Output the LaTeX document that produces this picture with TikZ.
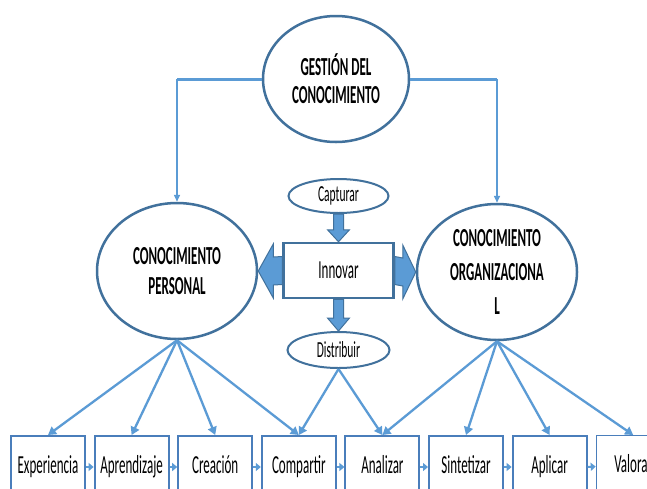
\documentclass[tikz,border=0pt]{standalone}
\usepackage{fontspec}
\setmainfont{Carlito}[FakeStretch=0.5]
\usetikzlibrary{shapes.geometric,arrows.meta,calc}
\definecolor{ltblue}{HTML}{5B9BD5}
\definecolor{dkblue}{HTML}{41719C}
\definecolor{bxblue}{HTML}{4A7EBB}
\tikzset{
  ell/.style={ellipse, draw=dkblue, line width=2.5pt, inner sep=0pt, fill=white, align=center, text=black},
  bigfont/.style={font=\fontsize{26}{30}\selectfont\bfseries},
  midfont/.style={font=\fontsize{23}{27}\selectfont},
  stepbox/.style={rectangle, draw=bxblue, line width=2pt, minimum width=74pt, minimum height=62pt,
    inner sep=0pt, anchor=north, text height=17pt, text depth=5pt, font=\fontsize{26}{30}\selectfont},
  fan/.style={draw=ltblue, line width=2.3pt, -{Triangle[length=8pt,width=9pt]}},
  small/.style={draw=ltblue, line width=2pt, -{Triangle[length=5pt,width=8pt]}},
  hline/.style={draw=ltblue, line width=3pt},
  vline/.style={draw=ltblue, line width=1.5pt, -{Triangle[length=7pt,width=6pt]}},
  blockarrow/.style={fill=ltblue, draw=dkblue, line width=1pt, line join=miter},
}
\begin{document}
\begin{tikzpicture}[x=1pt,y=-1pt]
\clip (0,0) rectangle (647,488);
\fill[white] (0,0) rectangle (647,488);

% main ellipses
\node[ell, bigfont, minimum width=146pt, minimum height=126pt] (gest) at (336,79)
  {GESTIÓN DEL\\[-2pt]CONOCIMIENTO};
\node[ell, bigfont, minimum width=160pt, minimum height=136pt] (pers) at (177,271)
  {CONOCIMIENTO\\PERSONAL};
\node[ell, bigfont, minimum width=160pt, minimum height=136pt, font=\fontsize{26}{34}\selectfont\bfseries] (org) at (497,272)
  {CONOCIMIENTO\\ORGANIZACIONA\\L};

% central elements
\node[ell, midfont, line width=2pt, minimum width=100pt, minimum height=34pt] (capt) at (338.5,196) {Capturar};
\node[rectangle, draw=dkblue, line width=2.5pt, fill=white, minimum width=110pt, minimum height=55pt,
  inner sep=0pt, font=\fontsize{26}{30}\selectfont] (innov) at (338.5,270.5) {Innovar};
\node[ell, midfont, line width=2pt, minimum width=102pt, minimum height=36pt] (dist) at (338.5,350) {Distribuir};

% connectors from top ellipse
\coordinate (lc) at (gest.west -| pers.north);
\coordinate (rc) at (gest.east -| org.north);
\draw[hline] (gest.west) -- (lc);
\draw[vline] (lc) -- (pers.north);
\draw[hline] (gest.east) -- (rc);
\draw[vline] (rc) -- (org.north);

% block arrows
\draw[blockarrow] ($(capt.south)+(-5,0)$) -- ($(innov.north)+(-5,-12)$) -- ($(innov.north)+(-11,-12)$)
  -- (innov.north) -- ($(innov.north)+(11,-12)$) -- ($(innov.north)+(5,-12)$) -- ($(capt.south)+(5,0)$) -- cycle;
\draw[blockarrow] ($(innov.south)+(-5,0)$) -- ($(dist.north)+(-5,-13)$) -- ($(dist.north)+(-11,-13)$)
  -- (dist.north) -- ($(dist.north)+(11,-13)$) -- ($(dist.north)+(5,-13)$) -- ($(innov.south)+(5,0)$) -- cycle;
\draw[blockarrow] ($(innov.west)+(0,-14)$) -- ($(pers.east)+(15,-14)$) -- ($(pers.east)+(15,-27)$)
  -- (pers.east) -- ($(pers.east)+(15,27)$) -- ($(pers.east)+(15,14)$) -- ($(innov.west)+(0,14)$) -- cycle;
\draw[blockarrow] ($(innov.east)+(0,-14)$) -- ($(org.west)+(-13,-14)$) -- ($(org.west)+(-13,-27)$)
  -- (org.west) -- ($(org.west)+(-13,27)$) -- ($(org.west)+(-13,14)$) -- ($(innov.east)+(0,14)$) -- cycle;

% bottom boxes
\node[stepbox] (b1) at (48,435) {Experiencia};
\node[stepbox] (b2) at (131.6,435) {Aprendizaje};
\node[stepbox] (b3) at (215.2,435) {Creación};
\node[stepbox] (b4) at (298.8,435) {Compartir};
\node[stepbox] (b5) at (382.4,435) {Analizar};
\node[stepbox] (b6) at (466,435) {Sintetizar};
\node[stepbox] (b7) at (549.6,435) {Aplicar};
\node[stepbox, line width=1pt] (b8) at (633.2,435) {Valorar};

% arrows between boxes
\draw[small] (b1.east) -- (b2.west);
\draw[small] (b2.east) -- (b3.west);
\draw[small] (b3.east) -- (b4.west);
\draw[small] (b4.east) -- (b5.west);
\draw[small] (b5.east) -- (b6.west);
\draw[small] (b6.east) -- (b7.west);
\draw[small] (b7.east) -- (b8.west);

% fans
\draw[fan] (pers.south) -- (b1.north);
\draw[fan] (pers.south) -- (b2.north);
\draw[fan] (pers.south) -- (b3.north);
\draw[fan] (pers.south) -- (b4.north);
\draw[fan] (dist.south) -- (b4.north);
\draw[fan] (dist.south) -- (b5.north);
\draw[fan] (org.south) -- (b5.north);
\draw[fan] (org.south) -- (b6.north);
\draw[fan] (org.south) -- (b7.north);
\draw[fan] (org.south) -- (b8.north);
\end{tikzpicture}
\end{document}
